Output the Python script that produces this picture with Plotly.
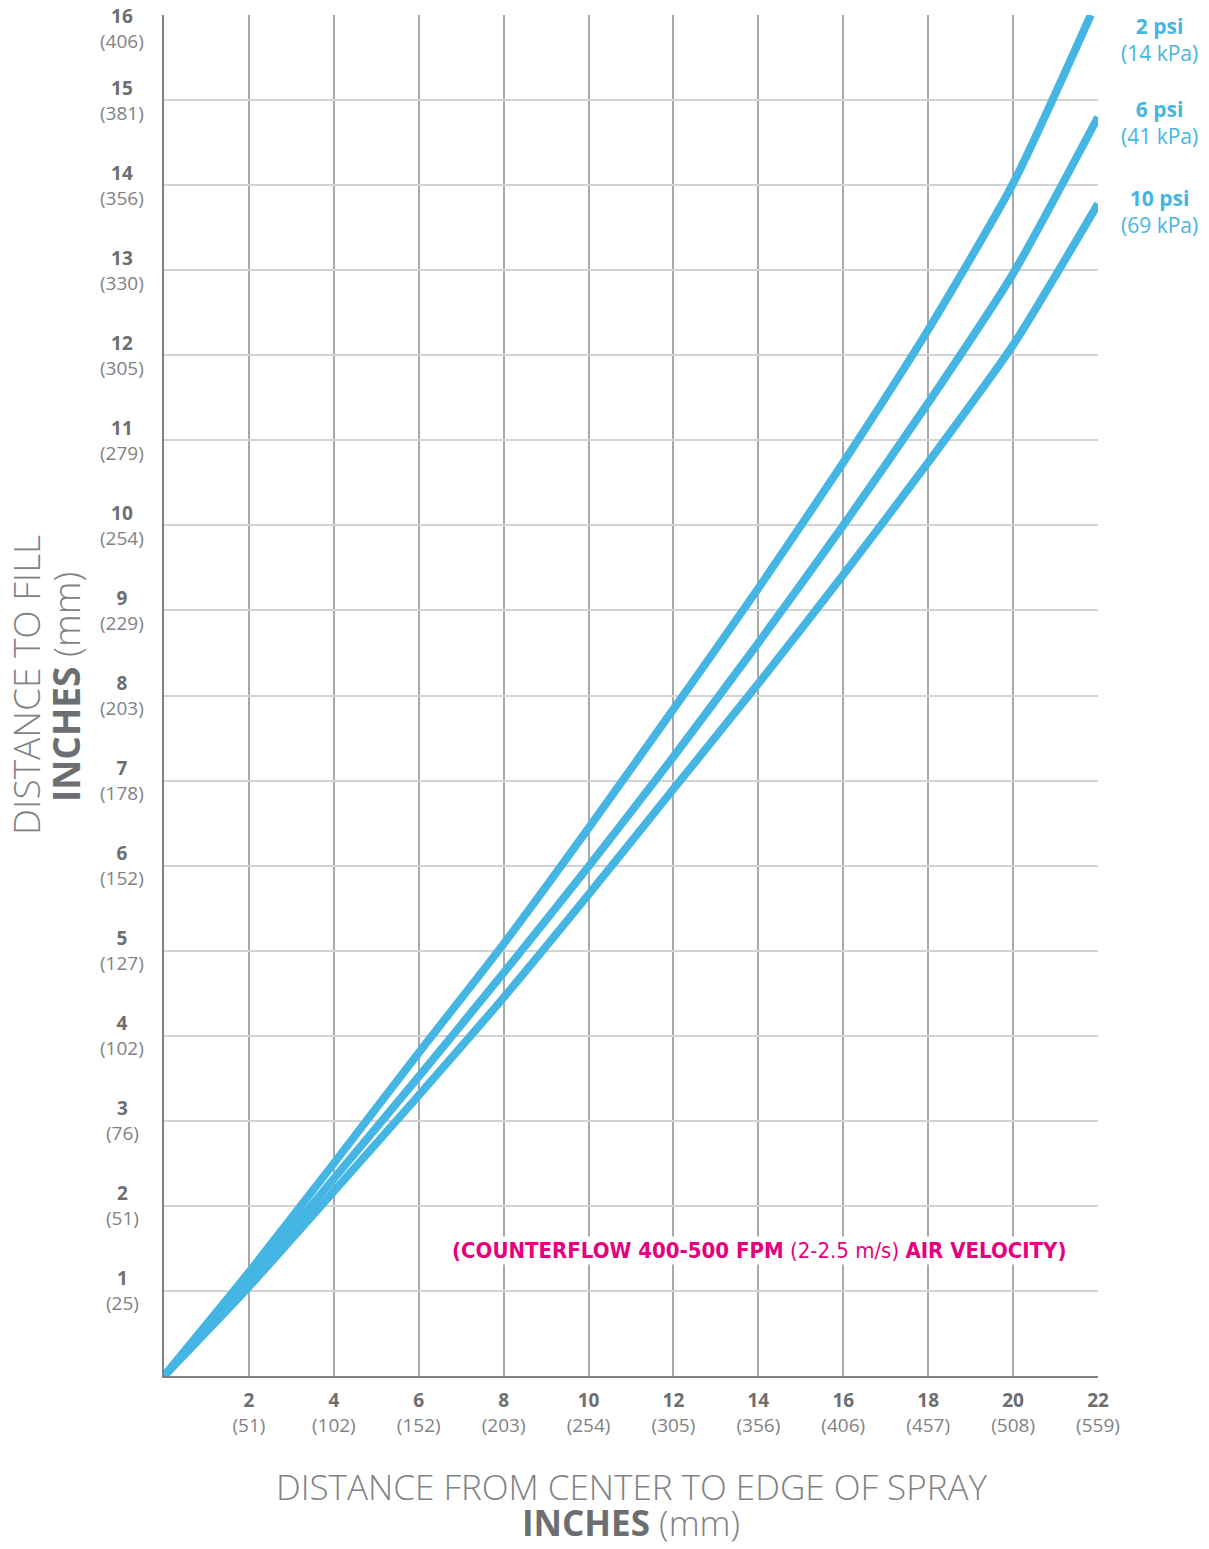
import plotly.graph_objects as go

# ---- data ----
x_in = [0, 2, 4, 6, 8, 10, 12, 14, 16, 18, 20, 21.83]
psi2 = [0, 1.22, 2.50, 3.80, 5.08, 6.44, 7.84, 9.26, 10.74, 12.30, 14.02, 16.0]

x_in6 = [0, 2, 4, 6, 8, 10, 12, 14, 16, 18, 20, 22]
psi6 = [0, 1.13, 2.32, 3.52, 4.74, 5.99, 7.28, 8.62, 10.00, 11.44, 12.96, 14.80]
psi10 = [0, 1.05, 2.17, 3.30, 4.45, 5.66, 6.90, 8.14, 9.42, 10.74, 12.12, 13.78]

x_ticks = [2, 4, 6, 8, 10, 12, 14, 16, 18, 20, 22]
x_mm = [51, 102, 152, 203, 254, 305, 356, 406, 457, 508, 559]
y_ticks = list(range(1, 17))
y_mm = [25, 51, 76, 102, 127, 152, 178, 203, 229, 254, 279, 305, 330, 356, 381, 406]

series_labels = [("2 psi", "14 kPa"), ("6 psi", "41 kPa"), ("10 psi", "69 kPa")]
series_label_ypx = [40, 123, 212]  # pixel centres of right-hand labels (page coords)

BLUE = "#45b6e3"
GRAY_DARK = "#6d6e71"
GRAY_LIGHT = "#808285"
FONT = "Open Sans, Noto Sans, sans-serif"

fig = go.Figure()
for xs, ys in [(x_in, psi2), (x_in6, psi6), (x_in6, psi10)]:
    fig.add_trace(go.Scatter(x=xs, y=ys, mode="lines",
                             line=dict(color=BLUE, width=8, shape="spline", smoothing=0.6),
                             hoverinfo="skip", showlegend=False))

OFF = 8  # default page body margin
W, H = 1209 - OFF, 1549 - OFF
L, R, T, B = 164 - OFF, 111, 15 - OFF, 173
pw = W - L - R
ph = H - T - B


def px_x(p):  # page pixel x -> paper coordinate
    return (p - OFF - L) / pw


def px_y(p):  # page pixel y -> paper coordinate
    return 1 - (p - OFF - T) / ph


fig.update_layout(
    width=W, height=H,
    margin=dict(l=L, r=R, t=T, b=B, pad=0),
    paper_bgcolor="white", plot_bgcolor="white",
    font=dict(family=FONT, color=GRAY_LIGHT),
    xaxis=dict(range=[0, 22], tickvals=x_ticks,
               ticktext=[f"<b style='color:{GRAY_DARK}'>{v}</b><br>({m})" for v, m in zip(x_ticks, x_mm)],
               tickfont=dict(size=19, color=GRAY_LIGHT, family=FONT),
               showgrid=True, gridcolor="#a7a9ac", gridwidth=1.5,
               showline=True, linecolor="#808285", linewidth=2,
               zeroline=False, ticks="", ticklabelstandoff=6, fixedrange=True),
    yaxis=dict(range=[0, 16], tickvals=y_ticks, showticklabels=False,
               showgrid=True, gridcolor="#d1d3d4", gridwidth=2,
               showline=True, linecolor="#808285", linewidth=2,
               zeroline=False, ticks="", fixedrange=True),
)

ann = []
# y tick labels (centred two-line labels)
for v, m in zip(y_ticks, y_mm):
    ann.append(dict(xref="paper", yref="y", x=px_x(122), y=v,
                    xanchor="center", yanchor="middle", align="center",
                    yshift=-13 if v == 16 else 0, showarrow=False,
                    text=f"<b style='color:{GRAY_DARK}'>{v}</b><br>({m})",
                    font=dict(size=19, color=GRAY_LIGHT, family=FONT)))

# right-hand series labels
for (p, k), ypx in zip(series_labels, series_label_ypx):
    ann.append(dict(xref="paper", yref="paper", x=px_x(1159), y=px_y(ypx),
                    xanchor="center", yanchor="middle", align="center", showarrow=False,
                    text=f"<b>{p}</b><br>({k})",
                    font=dict(size=21, color=BLUE, family=FONT)))

TITLE_FONT = dict(size=35, color=GRAY_LIGHT, family=FONT, weight=300)
YTITLE_FONT = dict(size=37, color=GRAY_LIGHT, family=FONT, weight=300)
# x axis title (two lines)
ann.append(dict(xref="paper", yref="paper", x=0.5, y=px_y(1486),
                xanchor="center", yanchor="middle", showarrow=False,
                text="DISTANCE FROM CENTER TO EDGE OF SPRAY", font=TITLE_FONT))
ann.append(dict(xref="paper", yref="paper", x=0.5, y=px_y(1523),
                xanchor="center", yanchor="middle", showarrow=False,
                text=f"<b style='color:{GRAY_DARK}'>INCHES</b> (mm)", font=TITLE_FONT))
# y axis title (two lines)
ann.append(dict(xref="paper", yref="paper", x=px_x(25), y=px_y(685),
                xanchor="center", yanchor="middle", showarrow=False, textangle=-90,
                text="DISTANCE TO FILL", font=YTITLE_FONT))
ann.append(dict(xref="paper", yref="paper", x=px_x(65), y=px_y(687),
                xanchor="center", yanchor="middle", showarrow=False, textangle=-90,
                text=f"<b style='color:{GRAY_DARK}'>INCHES</b> (mm)", font=YTITLE_FONT))

# in-plot note
ann.append(dict(xref="x", yref="y", x=21.3, y=1.48, xanchor="right", yanchor="middle",
                showarrow=False, bgcolor="white",
                text="<b>(COUNTERFLOW 400-500 FPM</b> (2-2.5 m/s) <b>AIR VELOCITY)</b>",
                font=dict(size=22, color="#e6007e",
                          family="Liberation Sans Narrow, DejaVu Sans Condensed, Open Sans, sans-serif")))

fig.update_layout(annotations=ann)
fig.write_html("out.html")
